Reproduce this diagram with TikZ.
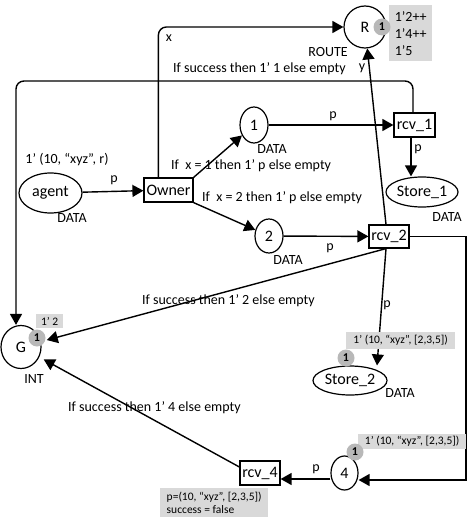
\documentclass[tikz,border=0pt]{standalone}
\usepackage{fontspec}
\setmainfont{Carlito}
\usetikzlibrary{positioning, shapes.geometric, arrows.meta}
\tikzstyle{place} = [draw, ellipse, line width=1.2pt, inner sep=0pt, font=\fontsize{16}{18}\selectfont]
\tikzstyle{trans} = [draw, rectangle, line width=1.2pt, inner sep=0pt, font=\fontsize{16}{18}\selectfont]
\tikzstyle{token} = [circle, fill=black!28, inner sep=0pt, minimum size=17pt, font=\fontsize{12}{14}\bfseries]
\tikzstyle{marking} = [fill=black!15, anchor=north west, align=left, inner sep=2pt, font=\fontsize{11.5}{13}\selectfont]
\tikzstyle{lab} = [inner sep=0pt, font=\fontsize{14}{16}\selectfont]
\tikzstyle{arc} = [-{Triangle[length=11pt,width=12pt]}, line width=1.4pt]

\begin{document}
\begin{tikzpicture}[x=1pt, y=-1pt]
\useasboundingbox (0,0) rectangle (468,524);
\node[place, minimum width=42, minimum height=42] (R) at (365,27) {R};
\node[place, minimum width=63, minimum height=40] (agent) at (50.5,193) {agent};
\node[trans, minimum width=49, minimum height=24] (Owner) at (168.5,190) {Owner};
\node[place, minimum width=28, minimum height=36] (p1) at (254,125) {1};
\node[place, minimum width=28, minimum height=34] (p2) at (269,236) {2};
\node[trans, minimum width=41, minimum height=24] (rcv1) at (414.5,125) {rcv\_1};
\node[place, minimum width=72, minimum height=30] (store1) at (422,192) {Store\_1};
\node[trans, minimum width=40, minimum height=23] (rcv2) at (389,236.5) {rcv\_2};
\node[place, minimum width=40, minimum height=43] (G) at (21,347) {G};
\node[place, minimum width=74, minimum height=29] (store2) at (350,380.5) {Store\_2};
\node[trans, minimum width=40, minimum height=24] (rcv4) at (260,473) {rcv\_4};
\node[place, minimum width=27, minimum height=34] (p4) at (344.5,473) {4};
\coordinate (gl) at (16,81);
\coordinate (rc) at (466,480);

\node[lab] (tR) at (328,52) {ROUTE};
\node[lab] (tagent) at (72,218) {DATA};
\node[lab] (t1) at (272,149) {DATA};
\node[lab] (t2) at (288,260) {DATA};
\node[lab] (ts1) at (447,217) {DATA};
\node[lab] (ts2) at (400,393) {DATA};
\node[lab] (tG) at (34,379) {INT};
\node[lab] (ia) at (67,160) {1’ (10, “xyz”, r)};

\draw[arc] (agent) -- (Owner);
\node[lab] (la) at (114,180) {p};
\draw[arc, rounded corners=8] ([xshift=15]Owner.north west) |- (R.west);
\node[lab] (lx) at (169,38) {x};
\draw[arc, rounded corners=8] ([xshift=-1.5]rcv1.north) |- (gl) -- (G.north -| gl);
\node[lab, anchor=west] (l1) at (173,69) {If success then 1’ 1 else empty};
\draw[arc] (Owner.north east) -- (p1);
\node[lab, anchor=west] (lo1) at (171,166) {If \ x = 1 then 1’ p else empty};
\draw[arc] (Owner.south east) -- (p2);
\node[lab, anchor=west] (lo2) at (202,198) {If \ x = 2 then 1’ p else empty};
\draw[arc] (p1) -- (rcv1);
\node[lab] (lp1) at (333,116) {p};
\draw[arc] (p2) -- (rcv2);
\node[lab] (lp2) at (330,248) {p};
\draw[arc] ([xshift=-3.5]rcv1.south) -- ([xshift=-3.5]rcv1.south |- store1.north);
\node[lab] (lr1) at (418,149) {p};
\draw[arc] ([xshift=-3]rcv2.north) -- (R);
\node[lab] (ly) at (362,68) {y};
\draw[arc, shorten >=6pt] ([xshift=-3]rcv2.south) -- (G);
\node[lab, anchor=west] (l2) at (142,301) {If success then 1’ 2 else empty};
\draw[arc] ([xshift=-3]rcv2.south) -- ([xshift=27]store2.north);
\node[lab] (lr2) at (387,305) {p};
\draw[arc] (rcv2.east) -| (rc) -- (rc -| p4.east);
\draw[arc] ([yshift=-6pt]p4.west) -- ([yshift=-6pt]rcv4.east);
\node[lab] (lp4) at (316,469) {p};
\draw[arc, shorten >=5pt] ([yshift=6pt]rcv4.west) -- (G);
\node[lab, anchor=west] (l4) at (68,408) {If success then 1’ 4 else empty};

\node[marking, minimum width=43, minimum height=56, font=\fontsize{14}{17}\selectfont] (mR) at (389,5) {1’2++\\1’4++\\1’5};
\node[token] (kR) at (382,27) {1};
\node[marking, minimum width=27, minimum height=14] (mG) at (36,314) {1’ 2};
\node[token] (kG) at (37,338) {1};
\node[marking, minimum width=109, minimum height=17] (ms2) at (346,332) {1’ (10, “xyz”, [2,3,5])};
\node[token] (ks2) at (346,358) {1};
\node[marking, minimum width=108, minimum height=15] (m4) at (358,434) {1’ (10, “xyz”, [2,3,5])};
\node[token] (k4) at (355,452) {1};
\node[marking, minimum width=108, minimum height=29] (mr4) at (160,488) {p=(10, “xyz”, [2,3,5])\\success = false};
\end{tikzpicture}
\end{document}
